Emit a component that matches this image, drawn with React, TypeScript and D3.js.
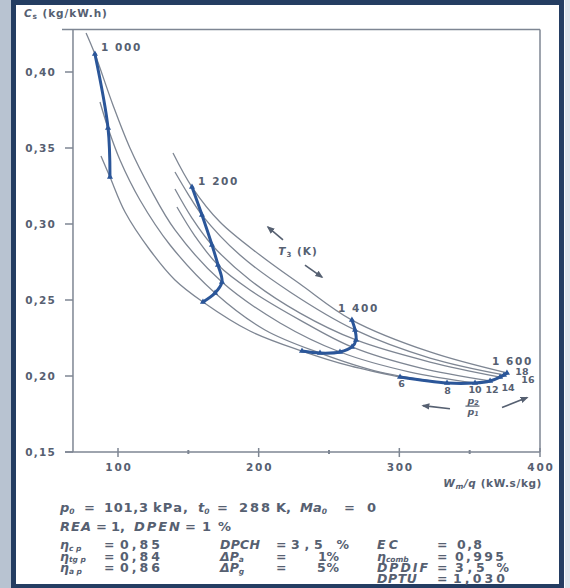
import React from "react";
import * as d3 from "d3";

type Pt = [number, number];

// grey curves, one per compressor pressure ratio : [Wm/q (kW.s/kg), Cs (kg/kW.h)]
const ratios = ["6", "8", "10", "12", "14", "16", "18"];
const pr6: Pt[] = [[87.9, 0.3447], [94.3, 0.3309], [105.0, 0.3079], [122.7, 0.2829], [140.5, 0.2632], [160.4, 0.2487], [193.8, 0.2296], [230.8, 0.2164], [265.0, 0.2066], [300.5, 0.1993]];
const pr8: Pt[] = [[87.2, 0.3803], [92.9, 0.3632], [101.4, 0.3421], [115.6, 0.3158], [137.0, 0.2862], [169.0, 0.2546], [204.5, 0.2303], [243.6, 0.2151], [286.3, 0.2026], [333.9, 0.1954]];
const pr10: Pt[] = [[77.3, 0.4257], [83.6, 0.4118], [96.4, 0.3783], [108.5, 0.35], [122.7, 0.3237], [140.5, 0.2961], [173.9, 0.2618], [215.2, 0.2349], [257.8, 0.2158], [307.6, 0.2026], [353.8, 0.1954]];
const pr12: Pt[] = [[141.9, 0.3112], [154.7, 0.2921], [171.1, 0.273], [193.8, 0.2566], [229.4, 0.2368], [266.3, 0.2191], [314.7, 0.2053], [364.5, 0.1967]];
const pr14: Pt[] = [[140.5, 0.323], [152.6, 0.3039], [166.8, 0.2862], [193.8, 0.2632], [229.4, 0.2414], [269.2, 0.2237], [321.8, 0.2092], [371.6, 0.1993]];
const pr16: Pt[] = [[140.5, 0.3342], [149.8, 0.3197], [159.7, 0.3059], [186.7, 0.2796], [222.3, 0.2553], [268.5, 0.2303], [321.8, 0.2118], [374.4, 0.2007]];
const pr18: Pt[] = [[139.1, 0.3467], [152.6, 0.3243], [172.5, 0.3013], [200.9, 0.2796], [229.4, 0.2605], [266.3, 0.2368], [321.8, 0.2158], [376.5, 0.202]];
const ratioCurves = [pr6, pr8, pr10, pr12, pr14, pr16, pr18];

// blue lines of constant T3 (K), from the highest ratio down to 6
const temps = ["1 000", "1 200", "1 400", "1 600"];
const t1000: Pt[] = [[83.6, 0.4118], [92.9, 0.3632], [94.3, 0.3309]];
const t1200: Pt[] = [[152.6, 0.3243], [159.7, 0.3059], [166.8, 0.2862], [171.1, 0.273], [173.9, 0.2618], [169.0, 0.2546], [160.4, 0.2487]];
const t1400: Pt[] = [[266.3, 0.2368], [268.5, 0.2303], [269.2, 0.2237], [266.3, 0.2191], [257.8, 0.2158], [243.6, 0.2151], [230.8, 0.2164]];
const t1600: Pt[] = [[376.5, 0.202], [374.4, 0.2007], [371.6, 0.1993], [364.5, 0.1967], [353.8, 0.1954], [333.9, 0.1954], [300.5, 0.1993]];
const tempLines = [t1000, t1200, t1400, t1600];

const xTicks = [100, 200, 300, 400];
const xMinor = [150, 250, 350];
const yTicks = [0.15, 0.2, 0.25, 0.3, 0.35, 0.4];

const TXT = "#566071";
const GREY = "#7e8693";
const BLUE = "#2b5699";
const NAVY = "#243d62";
const FONT = "'DejaVu Sans', Verdana, sans-serif";

type Seg = { x: number; t: string; sub?: string; it?: boolean; w?: number };
const params: { y: number; fs: number; segs: Seg[] }[] = [
  { y: 512, fs: 13, segs: [
    { x: 60, t: "p", sub: "0", it: true }, { x: 84, t: "=" }, { x: 104, t: "101,3", w: 44 }, { x: 153, t: "kPa,", w: 35 },
    { x: 198, t: "t", sub: "0", it: true }, { x: 217, t: "=" }, { x: 239, t: "288", w: 31 }, { x: 276, t: "K," },
    { x: 300, t: "Ma", sub: "0", it: true }, { x: 344, t: "=" }, { x: 367, t: "0" } ] },
  { y: 531, fs: 13, segs: [
    { x: 60, t: "REA", it: true, w: 31 }, { x: 96, t: "=" }, { x: 111, t: "1," }, { x: 134, t: "DPEN", it: true, w: 46 },
    { x: 185, t: "=" }, { x: 202, t: "1 %", w: 29 } ] },
  { y: 549, fs: 12.5, segs: [
    { x: 60, t: "η", sub: "c p", it: true }, { x: 104, t: "=" }, { x: 120, t: "0,85", w: 40 },
    { x: 220, t: "DPCH", it: true, w: 40 }, { x: 276, t: "=" }, { x: 291, t: "3,5 %", w: 58 },
    { x: 377, t: "EC", it: true, w: 21 }, { x: 437, t: "=" }, { x: 457, t: "0,8", w: 25 } ] },
  { y: 560.5, fs: 12.5, segs: [
    { x: 60, t: "η", sub: "tg p", it: true }, { x: 104, t: "=" }, { x: 120, t: "0,84", w: 40 },
    { x: 220, t: "ΔP", sub: "a", it: true }, { x: 276, t: "=" }, { x: 318, t: "1 %", w: 21 },
    { x: 377, t: "η", sub: "comb", it: true }, { x: 437, t: "=" }, { x: 455, t: "0,995", w: 49 } ] },
  { y: 572, fs: 12.5, segs: [
    { x: 60, t: "η", sub: "a p", it: true }, { x: 104, t: "=" }, { x: 120, t: "0,86", w: 40 },
    { x: 220, t: "ΔP", sub: "g", it: true }, { x: 276, t: "=" }, { x: 317, t: "5 %", w: 22 },
    { x: 377, t: "DPDIF", it: true, w: 51 }, { x: 437, t: "=" }, { x: 455, t: "3,5 %", w: 54 } ] },
  { y: 583, fs: 12.5, segs: [
    { x: 377, t: "DPTU", it: true, w: 40 }, { x: 437, t: "=" }, { x: 453, t: "1,030", w: 52 } ] },
];

const tempLabelOffset: Pt[] = [[6, -3], [6, -2], [-14, -8], [-15, -8]];
const ratioLabelOffset: Pt[] = [[1.5, 10], [0.5, 11], [0, 10], [2, 12], [8, 14], [24, 8], [15, 2]];

export default function App() {
  const x = d3.scaleLinear().domain([100, 400]).range([118, 540]);
  const y = d3.scaleLinear().domain([0.15, 0.4]).range([452, 72]);
  const line = d3.line<Pt>().x(d => x(d[0])).y(d => y(d[1])).curve(d3.curveCatmullRom.alpha(0.5));
  const tri = d3.symbol().type(d3.symbolTriangle).size(16)();

  const left = x(68), top = y(0.428), right = x(400), bottom = y(0.15);

  const arrow = (x1: number, y1: number, x2: number, y2: number, key: string) => (
    <line key={key} x1={x(x1)} y1={y(y1)} x2={x(x2)} y2={y(y2)} stroke={TXT} strokeWidth={1.6} markerEnd="url(#ah)" />
  );

  return (
    <svg width={570} height={588} style={{ position: "absolute", left: 0, top: 0 }} fontFamily={FONT}>
      <defs>
        <marker id="ah" viewBox="0 0 10 10" refX="8" refY="5" markerWidth="5" markerHeight="5" orient="auto">
          <path d="M0,1 L10,5 L0,9 z" fill={TXT} />
        </marker>
      </defs>
      <rect width={570} height={588} fill="#fff" />
      <rect x={0} y={0} width={11} height={588} fill="#b8c3d1" />
      <rect x={565} y={0} width={5} height={588} fill="#dfe5ec" />
      <rect x={13.5} y={2.5} width={548} height={584} fill="none" stroke={NAVY} strokeWidth={5} />

      {/* frame and axes */}
      <g stroke={GREY} strokeWidth={1.5} fill="none">
        <line x1={62} y1={top} x2={right} y2={top} />
        <line x1={right} y1={top} x2={right} y2={bottom} />
        <line x1={left} y1={top} x2={left} y2={bottom} />
        <line x1={65} y1={bottom} x2={right} y2={bottom} />
        {yTicks.map(v => <line key={v} x1={65} x2={left} y1={y(v)} y2={y(v)} />)}
        {xTicks.map(v => <line key={v} x1={x(v)} x2={x(v)} y1={bottom - 4} y2={bottom + 5} />)}
        {xMinor.map(v => <line key={v} x1={x(v)} x2={x(v)} y1={bottom - 2} y2={bottom + 2} strokeWidth={2} />)}
      </g>
      <g fill={TXT} fontSize={10.5} fontWeight="bold">
        {yTicks.map(v => (
          <text key={v} x={56} y={y(v) + 4} textAnchor="end" letterSpacing={1.2}>{d3.format(".2f")(v).replace(".", ",")}</text>
        ))}
        {xTicks.map(v => (
          <text key={v} x={x(v) + 1} y={bottom + 19} textAnchor="middle" letterSpacing={1.8}>{v}</text>
        ))}
        <text x={24} y={17} letterSpacing={0.9}>
          <tspan fontStyle="italic">C</tspan><tspan dy={2} fontSize={7.5}>s</tspan><tspan dy={-2}> (kg/kW.h)</tspan>
        </text>
        <text x={542} y={487} textAnchor="end" letterSpacing={0.6}>
          <tspan fontStyle="italic">W</tspan><tspan dy={2} fontSize={7.5} fontStyle="italic">m</tspan><tspan dy={-2} fontStyle="italic">/q</tspan><tspan> (kW.s/kg)</tspan>
        </text>
      </g>

      {/* pressure ratio curves */}
      <g fill="none" stroke={GREY} strokeWidth={1.3}>
        {ratioCurves.map((c, i) => <path key={i} d={line(c) || ""} />)}
      </g>

      {/* constant temperature lines */}
      {tempLines.map((tl, i) => (
        <g key={i}>
          <path d={line(tl) || ""} fill="none" stroke={BLUE} strokeWidth={3} strokeLinecap="round" />
          {tl.map((p, j) => (
            <path key={j} d={tri} transform={`translate(${x(p[0])},${y(p[1])})`} fill={BLUE} />
          ))}
          <text x={x(tl[0][0]) + tempLabelOffset[i][0]} y={y(tl[0][1]) + tempLabelOffset[i][1]} fill={TXT}
            fontSize={10.5} fontWeight="bold" letterSpacing={1.6}>{temps[i]}</text>
        </g>
      ))}

      {/* ratio labels along the 1 600 K line */}
      <g fill={TXT} fontSize={9.5} fontWeight="bold" textAnchor="middle">
        {ratios.map((r, i) => {
          const p = t1600[t1600.length - 1 - i];
          return <text key={r} x={x(p[0]) + ratioLabelOffset[i][0]} y={y(p[1]) + ratioLabelOffset[i][1]}>{r}</text>;
        })}
      </g>

      {/* T3 annotation */}
      <g>
        {arrow(217.3, 0.2895, 206.6, 0.298, "a1")}
        {arrow(232.9, 0.273, 245.0, 0.2651, "a2")}
        <text x={x(214)} y={y(0.2795)} fill={TXT} fontSize={10.5} fontWeight="bold" letterSpacing={1}>
          <tspan fontStyle="italic">T</tspan><tspan dy={2} fontSize={7}>3</tspan><tspan dy={-2}> (K)</tspan>
        </text>
      </g>

      {/* pressure ratio annotation */}
      <g>
        {arrow(336, 0.1785, 316.8, 0.1805, "a3")}
        {arrow(373, 0.1792, 390.8, 0.1858, "a4")}
        <g fill={TXT} fontSize={9.5} fontWeight="bold" fontStyle="italic">
          <text x={x(348.5)} y={y(0.1817)}>p<tspan dy={1.5} fontSize={6.5}>2</tspan></text>
          <line x1={x(347)} x2={x(357)} y1={y(0.1802)} y2={y(0.1802)} stroke={TXT} strokeWidth={1.2} />
          <text x={x(348.5)} y={y(0.1745)}>p<tspan dy={1.5} fontSize={6.5}>1</tspan></text>
        </g>
      </g>

      {/* operating parameters */}
      <g fill={TXT} fontWeight="bold">
        {params.map((row, ri) => row.segs.map((s, si) => (
          <text key={`${ri}-${si}`} x={s.x} y={row.y} fontSize={row.fs} fontStyle={s.it ? "italic" : "normal"}
            textLength={s.w} lengthAdjust={s.w ? "spacing" : undefined}>
            {s.t}
            {s.sub && <tspan dy={1.5} fontSize={7.5}>{s.sub}</tspan>}
          </text>
        )))}
      </g>
    </svg>
  );
}
